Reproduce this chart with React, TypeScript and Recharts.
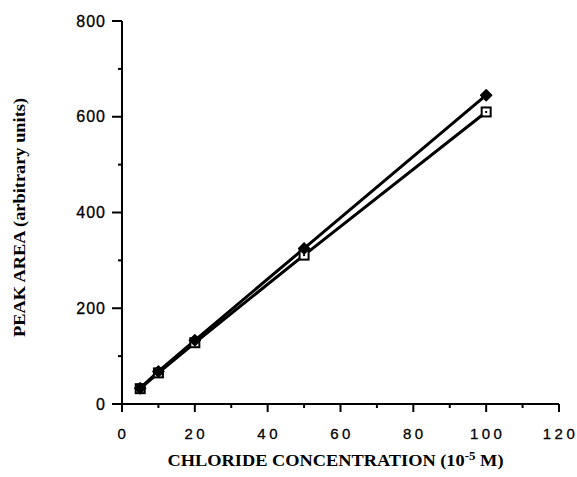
import React from 'react';
import { LineChart, Line, XAxis, YAxis, Label } from 'recharts';

const concentrations = [5, 10, 20, 50, 100];
const seriesDiamond = [33, 68, 133, 325, 645];
const seriesSquare = [32, 65, 128, 311, 610];
const xTicks = [0, 10, 20, 30, 40, 50, 60, 70, 80, 90, 100, 110, 120];
const yTicks = [0, 100, 200, 300, 400, 500, 600, 700, 800];
const xLabelTicks = [0, 20, 40, 60, 80, 100, 120];
const yLabelTicks = [0, 200, 400, 600, 800];

const data = concentrations.map((c, i) => ({ c, a: seriesDiamond[i], b: seriesSquare[i] }));

const XTick = (props: any) => {
  const { x, y, payload } = props;
  const v = payload.value;
  const major = xLabelTicks.includes(v);
  return (
    <g>
      <line x1={x} x2={x} y1={y} y2={y + (major ? 8 : 4)} stroke="#000" strokeWidth={2} />
      {major && (
        <text x={x + 1.5} y={y + 35} textAnchor="middle" fontFamily="'Liberation Sans', Arial, sans-serif" fontSize={15} letterSpacing={3.5} stroke="#000" strokeWidth={0.3} fill="#000">
          {v}
        </text>
      )}
    </g>
  );
};

const YTick = (props: any) => {
  const { x, y, payload } = props;
  const v = payload.value;
  const major = yLabelTicks.includes(v);
  return (
    <g>
      <line x1={x} x2={x - (major ? 10 : 4)} y1={y} y2={y} stroke="#000" strokeWidth={2} />
      {major && (
        <text x={x - 16} y={y + 5.5} textAnchor="end" fontFamily="'Liberation Sans', Arial, sans-serif" fontSize={16} letterSpacing={1} stroke="#000" strokeWidth={0.3} fill="#000">
          {v}
        </text>
      )}
    </g>
  );
};

const Diamond = (props: any) => {
  const { cx, cy } = props;
  if (cx == null || cy == null) return null;
  const r = 5.5;
  return <polygon points={`${cx},${cy - r} ${cx + r},${cy} ${cx},${cy + r} ${cx - r},${cy}`} fill="#000" stroke="#000" strokeWidth={1.5} strokeLinejoin="round" />;
};

const OpenSquare = (props: any) => {
  const { cx, cy } = props;
  if (cx == null || cy == null) return null;
  return (
    <g>
      <rect x={cx - 4.5} y={cy - 4.5} width={9} height={9} fill="#fff" stroke="#000" strokeWidth={2} />
      <rect x={cx - 1} y={cy - 1} width={2} height={2} fill="#000" />
    </g>
  );
};

const XTitle = (props: any) => {
  const { viewBox } = props;
  const cx = viewBox.x + viewBox.width / 2 - 5;
  return (
    <text x={cx} y={viewBox.y + 62} textAnchor="middle" fontFamily="'Liberation Serif', 'Times New Roman', serif" fontWeight="bold" fontSize={17} fill="#000" textLength={336} lengthAdjust="spacingAndGlyphs">
      CHLORIDE CONCENTRATION (10<tspan dy={-6} fontSize={12}>-5</tspan><tspan dy={6}> M)</tspan>
    </text>
  );
};

const YTitle = (props: any) => {
  const { viewBox } = props;
  const cy = viewBox.y + viewBox.height / 2 + 5;
  const x = 25;
  return (
    <text x={x} y={cy} transform={`rotate(-90 ${x} ${cy})`} textAnchor="middle" fontFamily="'Liberation Serif', 'Times New Roman', serif" fontWeight="bold" fontSize={17} fill="#000" textLength={239} lengthAdjust="spacingAndGlyphs">
      PEAK AREA (arbitrary units)
    </text>
  );
};

export default function App() {
  return (
    <div style={{ position: 'absolute', left: 0, top: 0, width: 577, height: 477, background: '#fff' }}>
      <LineChart width={577} height={477} data={data} margin={{ top: 21, right: 18, bottom: 0, left: 0 }}>
        <XAxis
          dataKey="c"
          type="number"
          domain={[0, 120]}
          ticks={xTicks}
          interval={0}
          height={73}
          tickSize={0}
          tickMargin={0}
          tickLine={false}
          axisLine={{ stroke: '#000', strokeWidth: 2 }}
          tick={<XTick />}
        >
          <Label content={<XTitle />} />
        </XAxis>
        <YAxis
          type="number"
          domain={[0, 800]}
          ticks={yTicks}
          interval={0}
          width={122}
          tickSize={0}
          tickMargin={0}
          tickLine={false}
          axisLine={{ stroke: '#000', strokeWidth: 2 }}
          tick={<YTick />}
        >
          <Label content={<YTitle />} />
        </YAxis>
        <Line dataKey="b" stroke="#000" strokeWidth={3} dot={<OpenSquare />} activeDot={false} isAnimationActive={false} />
        <Line dataKey="a" stroke="#000" strokeWidth={3} dot={<Diamond />} activeDot={false} isAnimationActive={false} />
      </LineChart>
    </div>
  );
}
